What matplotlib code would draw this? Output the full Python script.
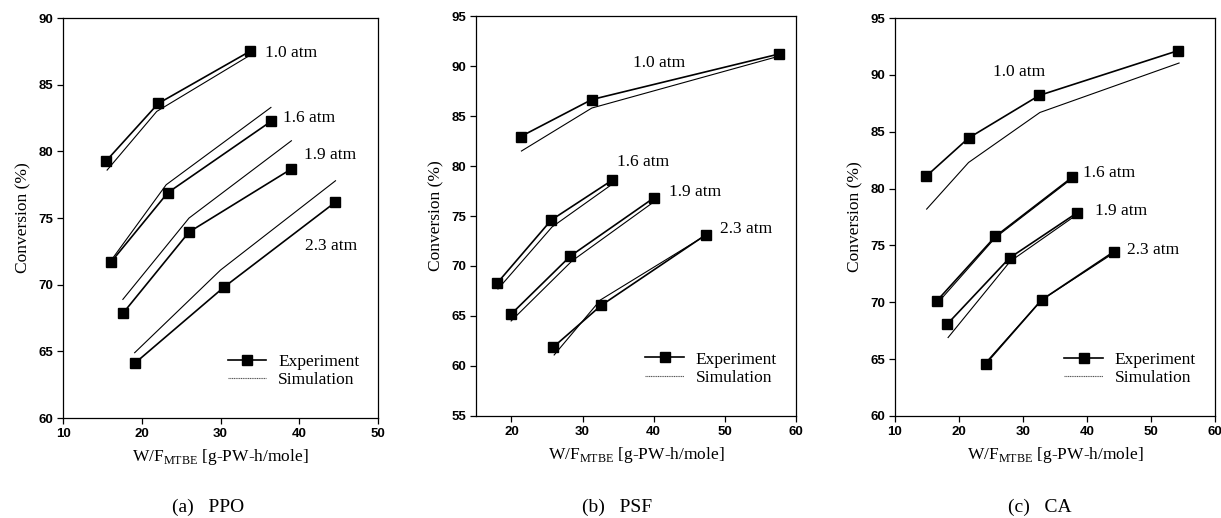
import matplotlib.pyplot as plt

# --- DATA ---
pressures = ["1.0 atm", "1.6 atm", "1.9 atm", "2.3 atm"]

# (a) PPO
ppo_exp_x = [[15.5, 22.1, 33.7], [16.1, 23.3, 36.4], [17.6, 26.0, 38.9], [19.1, 30.4, 44.6]]
ppo_exp_y = [[79.3, 83.6, 87.5], [71.7, 76.9, 82.25], [67.85, 73.95, 78.65], [64.1, 69.8, 76.2]]
ppo_sim_x = [[15.6, 21.9, 33.7], [16.2, 23.1, 36.4], [17.6, 26.0, 39.0], [19.1, 30.0, 44.6]]
ppo_sim_y = [[78.6, 83.0, 87.2], [71.9, 77.5, 83.3], [68.9, 75.0, 80.8], [64.9, 71.1, 77.8]]
ppo_lab_xy = [(35.6, 87.4), (37.9, 82.5), (40.6, 79.7), (40.7, 72.9)]

# (b) PSF
psf_exp_x = [[21.3, 31.3, 57.6], [18.0, 25.6, 34.2], [19.9, 28.3, 40.0], [25.9, 32.6, 47.4]]
psf_exp_y = [[82.95, 86.65, 91.2], [68.3, 74.6, 78.6], [65.15, 71.0, 76.8], [61.9, 66.05, 73.15]]
psf_sim_x = [[21.4, 31.3, 57.7], [18.1, 25.7, 34.2], [19.95, 28.5, 40.0], [26.0, 32.5, 47.4]]
psf_sim_y = [[81.5, 85.8, 91.0], [67.7, 73.9, 78.2], [64.5, 70.5, 76.4], [61.1, 66.6, 73.1]]
psf_lab_xy = [(37.1, 90.3), (34.8, 80.4), (42.1, 77.4), (49.4, 73.7)]

# (c) CA
ca_exp_x = [[14.9, 21.5, 32.55, 54.3], [16.5, 25.7, 37.7], [18.2, 27.9, 38.4], [24.2, 32.9, 44.2]]
ca_exp_y = [[81.1, 84.45, 88.2, 92.15], [70.1, 75.8, 81.0], [68.1, 73.9, 77.85], [64.6, 70.2, 74.45]]
ca_sim_x = [[14.95, 21.5, 32.65, 54.4], [16.6, 25.7, 37.7], [18.3, 28.0, 38.4], [24.2, 32.9, 44.1]]
ca_sim_y = [[78.2, 82.3, 86.7, 91.05], [69.9, 75.7, 80.9], [66.9, 73.6, 77.7], [64.7, 70.2, 74.3]]
ca_lab_xy = [(25.3, 90.3), (39.4, 81.4), (41.25, 78.0), (46.2, 74.6)]

panels = [
    ("(a)   PPO", ppo_exp_x, ppo_exp_y, ppo_sim_x, ppo_sim_y, ppo_lab_xy,
     (10, 50), (60, 90), range(10, 51, 10), range(60, 91, 5)),
    ("(b)   PSF", psf_exp_x, psf_exp_y, psf_sim_x, psf_sim_y, psf_lab_xy,
     (15, 60), (55, 95), range(20, 61, 10), range(55, 96, 5)),
    ("(c)   CA", ca_exp_x, ca_exp_y, ca_sim_x, ca_sim_y, ca_lab_xy,
     (10, 60), (60, 95), range(10, 61, 10), range(60, 96, 5)),
]

# --- LAYOUT (figure fractions) ---
axes_rects = [
    [0.0516, 0.193, 0.258, 0.772],
    [0.3898, 0.197, 0.262, 0.772],
    [0.7330, 0.197, 0.262, 0.768],
]
subtitle_x = [0.170, 0.505, 0.852]

serif = "Liberation Serif"
sans = "Liberation Sans"
plt.rcParams["mathtext.fontset"] = "custom"
plt.rcParams["mathtext.rm"] = serif

fig = plt.figure(figsize=(12.21, 5.18), dpi=100)

for rect, sx, p in zip(axes_rects, subtitle_x, panels):
    title, ex, ey, sxs, sys_, labs, xlim, ylim, xt, yt = p
    ax = fig.add_axes(rect)

    for i in range(len(pressures)):
        ax.plot(sxs[i], sys_[i], color="black", linewidth=0.8)
        ax.plot(ex[i], ey[i], color="black", linewidth=1.2, marker="s",
                markersize=6.5, markerfacecolor="black")
        ax.text(labs[i][0], labs[i][1], pressures[i], fontsize=12.5,
                family=serif, va="center", ha="left")

    # proxy artists for the legend
    h_exp, = ax.plot([], [], color="black", linewidth=1.2, marker="s",
                     markersize=6.5)
    h_sim, = ax.plot([], [], color="#555555", linewidth=0.8, linestyle=(0, (1, 0.6)))
    ax.legend([h_exp, h_sim], ["Experiment", "Simulation"], loc="lower right",
              bbox_to_anchor=(0.99, 0.035), frameon=False, handlelength=2.2,
              handletextpad=0.7, labelspacing=0.15,
              prop={"family": serif, "size": 12.5})

    ax.set_xlim(*xlim)
    ax.set_ylim(*ylim)
    ax.set_xticks(list(xt))
    ax.set_yticks(list(yt))
    ax.tick_params(direction="out", length=4, width=0.9, labelsize=9.5, pad=3)
    for lab in ax.get_xticklabels() + ax.get_yticklabels():
        lab.set_family(sans)
        lab.set_fontweight("bold")
    for s in ax.spines.values():
        s.set_linewidth(0.9)

    ax.set_ylabel("Conversion (%)", family=serif, fontsize=12.5, labelpad=5)
    ax.set_xlabel(r"W/F$_{\mathrm{MTBE}}$ [g-PW-h/mole]", family=serif,
                  fontsize=12.5, labelpad=5)

    fig.text(sx, 0.004, title, family=serif, fontsize=14, ha="center", va="bottom")

fig.savefig("out.png", dpi=100)
